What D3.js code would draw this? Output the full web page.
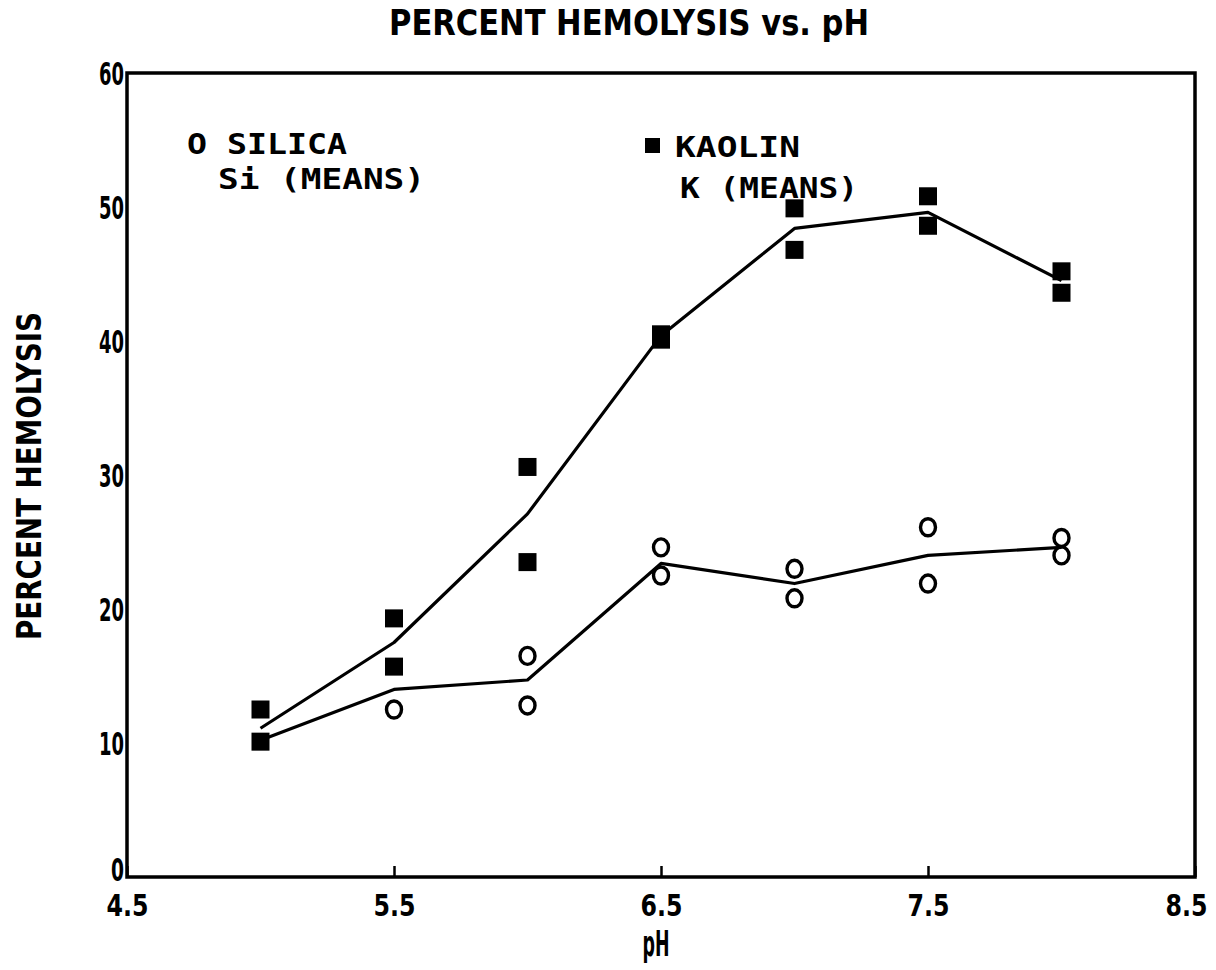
<!DOCTYPE html>
<html><head><meta charset="utf-8">
<script src="https://cdn.jsdelivr.net/npm/d3@7"></script>
<style>body{margin:0;background:#fff}</style>
</head><body><svg id="c" width="1216" height="970"></svg>
<script>
// ---- data ----
const phLevels = [5, 5.5, 6, 6.5, 7, 7.5, 8];
const kaolinPH = [5, 5, 5.5, 5.5, 6, 6, 6.5, 6.5, 7, 7, 7.5, 7.5, 8, 8];
const kaolinValues = [12.5, 10.1, 19.3, 15.7, 30.6, 23.5, 40.5, 40.1, 49.9, 46.8, 50.8, 48.6, 45.2, 43.6];
const kaolinMeans = [11.1, 17.5, 27.1, 40.4, 48.4, 49.6, 44.5];
const silicaPH = [5.5, 6, 6, 6.5, 6.5, 7, 7, 7.5, 7.5, 8, 8];
const silicaValues = [12.5, 16.5, 12.8, 24.6, 22.5, 23.0, 20.8, 26.1, 21.9, 25.3, 24.0];
const silicaMeans = [10.2, 14.0, 14.7, 23.4, 21.9, 24.0, 24.6];
const xTicks = [4.5, 5.5, 6.5, 7.5, 8.5];
const yTicks = [0, 10, 20, 30, 40, 50, 60];

const svg = d3.select("#c");
const x = d3.scaleLinear().domain([4.5, 8.5]).range([127, 1195]);
const y = d3.scaleLinear().domain([0, 60]).range([877, 73]);
const narrow = "'Liberation Sans Narrow','DejaVu Sans Condensed',sans-serif";
const mono = "'DejaVu Sans Mono','Liberation Mono',monospace";

// title
svg.append("text").attr("x", 629).attr("y", 35).attr("text-anchor", "middle")
  .attr("font-family", narrow).attr("font-weight", "bold").style("font-size", "36px")
  .attr("textLength", 480).attr("lengthAdjust", "spacingAndGlyphs")
  .text("PERCENT HEMOLYSIS vs. pH");

// x axis
const xAxis = svg.append("g").attr("transform", `translate(0,${y(0)})`)
  .call(d3.axisBottom(x).tickValues(xTicks).tickSize(-11).tickPadding(15).tickFormat(d3.format(".1f")));
xAxis.select(".domain").remove();
xAxis.selectAll(".tick line").attr("stroke", "#000").attr("stroke-width", 2.5);
xAxis.selectAll(".tick text").attr("font-family", narrow).attr("font-weight", "bold")
  .style("font-size", "31px").attr("fill", "#000").attr("dy", "0.78em")
  .attr("dx", d => d === 8.5 ? -9 : 0)
  .attr("textLength", 42).attr("lengthAdjust", "spacingAndGlyphs");

// y axis
const yAxis = svg.append("g").attr("transform", `translate(${x(4.5)},0)`)
  .call(d3.axisLeft(y).tickValues(yTicks).tickSize(0).tickPadding(3));
yAxis.select(".domain").remove();
yAxis.selectAll(".tick text").attr("font-family", narrow).attr("font-weight", "bold")
  .style("font-size", "32px").attr("fill", "#000").attr("dy", d => d === 0 ? "0.12em" : "0.36em")
  .attr("textLength", d => d === 0 ? 13 : 25).attr("lengthAdjust", "spacingAndGlyphs");

// frame
svg.append("rect").attr("x", x(4.5)).attr("y", y(60))
  .attr("width", x(8.5) - x(4.5)).attr("height", y(0) - y(60))
  .attr("fill", "none").attr("stroke", "#000").attr("stroke-width", 3.5);

// axis titles
svg.append("text").attr("x", 656).attr("y", 956).attr("text-anchor", "middle")
  .attr("font-family", narrow).attr("font-weight", "bold").style("font-size", "36px")
  .attr("textLength", 27).attr("lengthAdjust", "spacingAndGlyphs").text("pH");
svg.append("text").attr("transform", "translate(41,476) rotate(-90)").attr("text-anchor", "middle")
  .attr("font-family", narrow).attr("font-weight", "bold").style("font-size", "34px")
  .attr("textLength", 328).attr("lengthAdjust", "spacingAndGlyphs")
  .text("PERCENT HEMOLYSIS");

// mean lines
const line = d3.line().x((d, i) => x(phLevels[i])).y(d => y(d));
svg.append("path").datum(kaolinMeans).attr("d", line)
  .attr("fill", "none").attr("stroke", "#000").attr("stroke-width", 3.2).attr("stroke-linejoin", "round");
svg.append("path").datum(silicaMeans).attr("d", line)
  .attr("fill", "none").attr("stroke", "#000").attr("stroke-width", 3.2).attr("stroke-linejoin", "round");

// silica points (open circles)
svg.append("g").selectAll("ellipse").data(silicaValues).join("ellipse")
  .attr("cx", (d, i) => x(silicaPH[i])).attr("cy", d => y(d))
  .attr("rx", 7.5).attr("ry", 8.5).attr("fill", "none")
  .attr("stroke", "#000").attr("stroke-width", 3.4);

// kaolin points (filled squares)
const s = 18;
svg.append("g").selectAll("rect").data(kaolinValues).join("rect")
  .attr("x", (d, i) => x(kaolinPH[i]) - s / 2).attr("y", d => y(d) - s / 2)
  .attr("width", s).attr("height", s).attr("fill", "#000");

// legend
const lg = svg.append("g").attr("font-family", mono).attr("font-weight", "bold").style("font-size", "28px").attr("fill", "#000");
lg.append("text").attr("x", 187).attr("y", 154).attr("textLength", 160).attr("lengthAdjust", "spacingAndGlyphs").text("O SILICA");
lg.append("text").attr("x", 218).attr("y", 189).attr("textLength", 207).attr("lengthAdjust", "spacingAndGlyphs").text("Si (MEANS)");
svg.append("rect").attr("x", 645).attr("y", 138).attr("width", 15).attr("height", 15).attr("fill", "#000");
lg.append("text").attr("x", 675).attr("y", 157).attr("textLength", 125).attr("lengthAdjust", "spacingAndGlyphs").text("KAOLIN");
lg.append("text").attr("x", 680).attr("y", 198).attr("textLength", 178).attr("lengthAdjust", "spacingAndGlyphs").text("K (MEANS)");
</script></body></html>
